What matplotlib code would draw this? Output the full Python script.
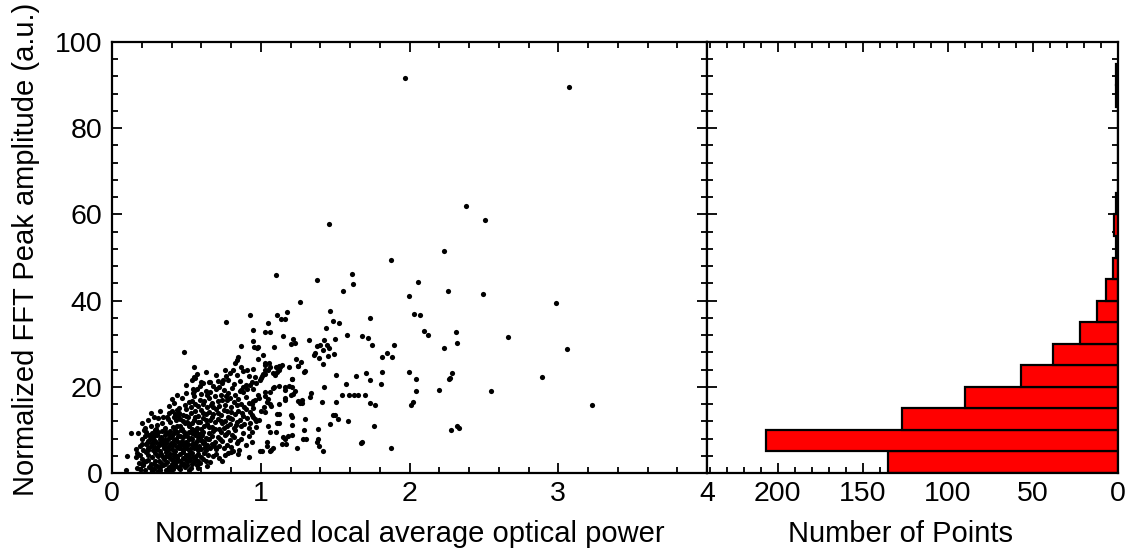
import matplotlib
matplotlib.use("Agg")
import matplotlib.pyplot as plt
from matplotlib.ticker import MultipleLocator

# ---------------- data ----------------
# sparse / outlying points (power, amplitude)
pts_sparse = [
    (1.97, 91.6), (3.07, 89.5), (2.378, 62.0), (2.508, 58.8), (1.459, 57.7), (2.232, 51.6),
    (1.878, 49.4), (1.103, 45.9), (1.611, 46.2), (1.38, 44.8), (1.623, 43.9), (2.057, 44.3),
    (1.555, 42.2), (1.999, 41.1), (2.259, 42.2), (2.496, 41.6), (1.264, 39.7), (1.466, 37.6),
    (1.111, 36.7), (1.134, 35.7), (1.161, 35.7), (1.176, 37.4), (0.928, 36.7), (2.033, 36.8),
    (2.071, 36.7), (1.484, 35.3), (1.737, 35.9), (2.985, 39.4), (1.528, 34.7), (1.439, 33.6),
    (1.047, 34.7), (0.95, 33.2), (1.029, 32.8), (1.062, 32.6), (1.147, 31.9), (2.097, 32.9),
    (2.127, 32.0), (2.31, 32.6), (2.32, 30.1), (2.66, 31.6), (1.578, 32.0), (1.678, 31.8),
    (1.723, 31.3), (1.499, 31.2), (1.425, 30.9), (1.215, 31.1), (1.232, 30.2), (1.324, 30.8),
    (0.766, 35.0), (0.946, 30.6), (2.234, 28.9), (3.06, 28.8), (1.75, 29.7), (1.894, 29.8),
    (1.851, 27.9), (1.813, 27.0), (1.884, 26.8), (1.203, 29.9), (1.376, 29.5), (1.398, 29.8),
    (1.365, 27.9), (1.358, 27.4), (1.443, 29.7), (1.457, 28.9), (1.421, 28.5), (1.450, 27.1),
    (1.390, 26.6), (1.494, 27.5), (1.087, 29.2), (0.975, 29.1), (0.983, 26.4), (1.017, 27.4),
    (1.235, 26.4), (1.268, 25.8), (1.027, 25.6), (1.055, 25.5), (0.957, 29.3), (0.983, 29.3),
    (0.865, 29.5), (0.484, 28.1), (0.838, 26.2), (0.85, 26.8), (0.827, 25.5), (1.416, 25.4),
]

# medium-density points (power, amplitude)
pts_mid = [
    (1.506, 22.7), (1.573, 20.6), (1.638, 22.6), (1.71, 23.1), (1.732, 21.6), (1.813, 23.4),
    (1.808, 20.6), (1.994, 23.4), (2.044, 21.7), (2.041, 19.1), (2.026, 16.5), (2.012, 15.7),
    (2.2, 19.3), (2.263, 21.8), (2.286, 23.1), (2.27, 22.0), (2.89, 22.3), (2.548, 19.1),
    (3.23, 15.7), (2.28, 10.0), (2.32, 10.9), (2.33, 10.4), (1.547, 18.1), (1.59, 18.1),
    (1.625, 18.1), (1.654, 18.1), (1.698, 18.1), (1.734, 16.3), (1.770, 15.8), (1.506, 16.5),
    (1.414, 16.4), (1.425, 19.9), (1.33, 17.6), (1.34, 18.5), (1.25, 16.7), (1.28, 16.9),
    (1.16, 17.5), (1.2, 18.2), (1.22, 18.3), (1.466, 11.4), (1.522, 12.6), (1.501, 13.5),
    (1.589, 12.1), (1.387, 10.2), (1.387, 7.8), (1.376, 7.3), (1.39, 6.3), (1.421, 5.1),
    (1.297, 12.6), (1.291, 10.0), (1.286, 7.8), (1.304, 8.0), (1.242, 5.7), (1.21, 11.1),
    (1.21, 13.1), (1.21, 8.8), (1.15, 8.4), (1.16, 8.0), (1.17, 6.7), (1.18, 8.7),
    (1.11, 13.8), (1.11, 11.5), (1.10, 9.4), (1.14, 6.7), (1.876, 5.7), (1.672, 7.0),
    (1.683, 7.1), (1.763, 10.8), (1.488, 13.5), (1.2, 13.5), (1.264, 16.2), (1.28, 16.3),
    (1.163, 16.9), (1.04, 7.3), (0.995, 5.2), (1.01, 5.2), (1.06, 5.0), (1.07, 5.4),
    (1.08, 5.8), (1.05, 11.0), (1.06, 9.5), (1.04, 6.2), (1.03, 18.8), (1.06, 18.8),
    (1.03, 17.9), (1.05, 17.2), (1.04, 16.5), (1.06, 16.1), (1.07, 15.5), (0.96, 17.0),
    (0.98, 18.2), (0.99, 17.5), (0.95, 16.8), (0.94, 16.0), (0.93, 14.2), (0.95, 15.0),
    (0.94, 13.5), (0.96, 12.6), (0.97, 12.0), (0.93, 11.5), (1.0, 14.5), (1.02, 15.2),
    (1.03, 14.2), (1.12, 16.1), (1.12, 13.6), (1.12, 11.5), (1.09, 20.0), (1.12, 20.2),
    (1.16, 20.0), (1.21, 20.0), (1.19, 20.2), (1.23, 19.1), (1.16, 19.3), (1.212, 21.8),
    (1.08, 19.7), (1.03, 23.0), (1.0, 22.0), (1.01, 22.4), (0.995, 21.6), (1.029, 23.9),
    (1.051, 23.9), (1.017, 23.0), (1.029, 25.0), (1.062, 24.6), (0.93, 20.5), (0.95, 19.6),
    (0.94, 21.0), (0.96, 22.3), (1.12, 24.0), (1.13, 24.5), (1.14, 25.0), (1.11, 23.4),
    (1.12, 24.8), (1.10, 24.6), (1.192, 24.7), (1.094, 22.7), (1.084, 23.1), (1.295, 23.6),
    (1.248, 24.9), (1.208, 21.8), (1.253, 24.8), (1.291, 23.5),
]

# dense cluster at low power (power, amplitude)
pts_dense = [
    # 0-5
    (0.092, 0.7), (0.17, 1.2), (0.18, 2.4), (0.19, 1.0), (0.20, 3.3), (0.21, 1.8), (0.22, 0.6),
    (0.23, 2.9), (0.24, 4.1), (0.25, 1.4), (0.26, 2.2), (0.27, 3.6), (0.28, 0.9), (0.29, 4.6),
    (0.29, 2.7), (0.30, 1.6), (0.31, 3.9), (0.32, 0.8), (0.33, 2.4), (0.33, 4.4), (0.34, 1.9),
    (0.35, 3.2), (0.36, 0.7), (0.36, 4.8), (0.37, 2.6), (0.38, 1.3), (0.38, 3.7), (0.39, 4.3),
    (0.40, 2.0), (0.41, 0.9), (0.41, 3.1), (0.42, 4.6), (0.43, 1.7), (0.44, 2.8), (0.44, 3.9),
    (0.45, 1.1), (0.46, 4.4), (0.47, 2.3), (0.48, 3.4), (0.49, 1.5), (0.50, 4.1), (0.51, 2.7),
    (0.52, 3.6), (0.53, 1.2), (0.54, 4.7), (0.55, 2.5), (0.56, 3.3), (0.57, 1.8), (0.58, 4.3),
    (0.59, 2.3), (0.60, 3.8), (0.62, 4.6), (0.63, 2.9), (0.66, 2.5), (0.68, 3.9), (0.70, 4.5),
    (0.737, 2.9), (0.76, 4.2), (0.80, 4.8), (0.923, 3.8), (0.099, 3.9), (0.17, 4.7), (0.16, 3.6),
    (0.19, 4.2), (0.215, 2.6), (0.245, 3.0), (0.265, 1.2), (0.285, 2.0), (0.305, 4.2),
    (0.315, 2.8), (0.325, 1.4), (0.345, 3.6), (0.355, 2.2), (0.365, 4.0), (0.375, 1.0),
    (0.395, 3.3), (0.405, 1.6), (0.415, 4.0), (0.425, 2.4), (0.435, 3.5), (0.455, 2.9),
    (0.465, 1.8), (0.475, 4.8), (0.485, 2.0), (0.495, 3.0), (0.505, 1.9), (0.515, 4.5),
    (0.525, 3.0), (0.535, 2.2), (0.545, 3.8), (0.565, 4.0), (0.575, 2.8), (0.61, 3.3),
    (0.645, 4.1), (0.72, 3.4), (0.78, 4.6), (0.85, 4.4), (0.20, 2.0), (0.23, 4.8), (0.27, 0.5),
    (0.31, 0.5), (0.39, 0.6), (0.46, 0.9), (0.52, 0.8), (0.58, 1.2), (0.64, 1.6),
    # 5-10
    (0.126, 9.2), (0.161, 5.5), (0.177, 9.2), (0.19, 6.3), (0.20, 7.8), (0.21, 5.4), (0.22, 8.6),
    (0.226, 6.7), (0.23, 9.6), (0.24, 5.9), (0.245, 7.4), (0.25, 8.9), (0.255, 8.0), (0.26, 6.2),
    (0.267, 6.9), (0.27, 9.3), (0.275, 5.3), (0.28, 7.7), (0.285, 8.5), (0.289, 10.0), (0.29, 6.0),
    (0.295, 7.1), (0.30, 8.8), (0.305, 5.6), (0.31, 9.5), (0.315, 6.6), (0.32, 7.9), (0.325, 5.2),
    (0.33, 8.4), (0.335, 9.8), (0.34, 6.4), (0.345, 7.3), (0.35, 5.8), (0.355, 8.9), (0.36, 6.9),
    (0.365, 9.4), (0.37, 7.6), (0.375, 5.3), (0.38, 8.2), (0.385, 6.2), (0.39, 9.7), (0.395, 7.0),
    (0.40, 5.6), (0.405, 8.6), (0.41, 6.5), (0.415, 9.2), (0.42, 7.7), (0.425, 5.2), (0.43, 8.0),
    (0.435, 6.1), (0.44, 9.5), (0.445, 7.2), (0.45, 5.7), (0.455, 8.7), (0.46, 6.6), (0.465, 9.9),
    (0.47, 7.5), (0.475, 5.4), (0.48, 8.3), (0.485, 6.3), (0.49, 9.1), (0.495, 7.1), (0.50, 5.9),
    (0.505, 8.5), (0.51, 6.8), (0.515, 9.6), (0.52, 7.8), (0.525, 5.5), (0.53, 8.1), (0.535, 6.4),
    (0.54, 9.3), (0.545, 7.0), (0.55, 5.8), (0.555, 8.8), (0.56, 6.7), (0.565, 9.7), (0.57, 7.4),
    (0.575, 5.3), (0.58, 8.4), (0.585, 6.2), (0.59, 9.0), (0.595, 7.6), (0.60, 5.6), (0.605, 8.9),
    (0.61, 6.9), (0.615, 9.5), (0.62, 7.3), (0.63, 5.4), (0.635, 8.2), (0.64, 6.5), (0.65, 9.2),
    (0.655, 7.8), (0.66, 5.9), (0.67, 8.6), (0.675, 6.8), (0.68, 9.8), (0.69, 7.1), (0.70, 5.5),
    (0.71, 8.4), (0.72, 6.3), (0.73, 9.4), (0.74, 7.5), (0.75, 5.7), (0.76, 8.8), (0.77, 6.6),
    (0.78, 9.6), (0.79, 7.7), (0.80, 6.0), (0.816, 5.1), (0.82, 8.3), (0.83, 9.9), (0.84, 6.9),
    (0.856, 5.3), (0.87, 7.9), (0.88, 9.2), (0.90, 6.5), (0.92, 8.5), (0.94, 7.3), (0.94, 9.6),
    (0.205, 6.8), (0.235, 7.0), (0.265, 8.4), (0.295, 9.0), (0.325, 6.9), (0.355, 7.7),
    (0.385, 9.0), (0.415, 6.8), (0.445, 8.6), (0.475, 7.0), (0.505, 6.6), (0.535, 8.0),
    (0.565, 6.0), (0.595, 8.5), (0.625, 6.0), (0.215, 9.9), (0.245, 5.3), (0.275, 7.0),
    (0.305, 5.9), (0.335, 8.0), (0.365, 5.7), (0.395, 8.4), (0.425, 9.9), (0.455, 5.9),
    (0.485, 9.5), (0.515, 5.3), (0.545, 9.9), (0.575, 9.0), (0.605, 7.4), (0.645, 8.0),
    (0.685, 6.2), (0.725, 7.9), (0.765, 9.0), (0.805, 8.9), (0.845, 7.5),
    # 10-15
    (0.222, 10.4), (0.20, 11.5), (0.24, 12.3), (0.26, 10.8), (0.28, 13.0), (0.30, 11.2),
    (0.31, 12.8), (0.32, 14.3), (0.334, 11.5), (0.345, 13.1), (0.368, 13.1), (0.39, 11.9),
    (0.40, 14.5), (0.41, 10.6), (0.424, 13.7), (0.43, 12.2), (0.44, 11.0), (0.45, 14.0),
    (0.46, 12.6), (0.47, 10.3), (0.48, 13.5), (0.49, 11.7), (0.50, 14.8), (0.51, 12.9),
    (0.52, 10.8), (0.53, 13.9), (0.54, 11.5), (0.55, 12.4), (0.56, 14.4), (0.57, 10.5),
    (0.58, 13.2), (0.59, 11.9), (0.60, 14.6), (0.61, 12.7), (0.62, 10.9), (0.63, 13.6),
    (0.64, 11.3), (0.65, 14.2), (0.66, 12.3), (0.67, 10.6), (0.68, 13.8), (0.69, 11.8),
    (0.70, 14.9), (0.71, 12.5), (0.72, 10.2), (0.73, 13.4), (0.74, 11.6), (0.75, 14.7),
    (0.76, 12.1), (0.77, 10.8), (0.78, 13.0), (0.79, 11.3), (0.80, 14.1), (0.81, 12.6),
    (0.82, 10.5), (0.83, 13.7), (0.84, 11.9), (0.85, 14.4), (0.86, 12.2), (0.87, 10.9),
    (0.88, 13.3), (0.89, 11.4), (0.90, 14.8), (0.91, 12.8), (0.92, 10.4), (0.95, 13.0),
    (0.97, 10.7), (0.99, 12.3), (0.295, 10.2), (0.355, 10.4), (0.375, 12.6), (0.415, 12.9),
    (0.435, 14.7), (0.455, 10.9), (0.475, 12.0), (0.495, 13.3), (0.515, 11.4), (0.535, 10.1),
    (0.555, 13.1), (0.575, 11.8), (0.595, 10.3), (0.615, 13.9), (0.635, 12.3), (0.655, 10.6),
    (0.675, 12.9), (0.695, 10.1), (0.715, 13.9), (0.735, 12.0), (0.755, 10.5), (0.775, 14.3),
    (0.795, 12.8), (0.835, 11.1), (0.875, 13.9), (0.265, 14.0), (0.385, 14.0), (0.445, 13.2),
    (0.505, 11.9),
    # 15-20
    (0.38, 15.5), (0.42, 16.2), (0.45, 15.1), (0.47, 17.3), (0.49, 15.8), (0.50, 18.6),
    (0.52, 16.5), (0.53, 15.3), (0.55, 17.8), (0.56, 16.1), (0.57, 19.4), (0.58, 15.6),
    (0.59, 17.0), (0.60, 18.3), (0.61, 15.9), (0.62, 16.8), (0.63, 19.0), (0.64, 15.4),
    (0.65, 17.5), (0.66, 18.8), (0.67, 16.3), (0.68, 15.2), (0.69, 17.9), (0.70, 19.6),
    (0.71, 16.6), (0.72, 15.5), (0.73, 18.1), (0.74, 17.0), (0.75, 19.3), (0.76, 15.8),
    (0.77, 16.9), (0.78, 18.5), (0.79, 17.4), (0.80, 15.3), (0.81, 19.8), (0.82, 16.4),
    (0.83, 18.0), (0.84, 15.7), (0.85, 17.2), (0.86, 19.1), (0.87, 16.0), (0.88, 18.7),
    (0.89, 15.4), (0.90, 17.6), (0.91, 19.5), (0.92, 16.2), (0.547, 19.4), (0.44, 18.0),
    (0.40, 17.2), (0.54, 16.8), (0.64, 18.1), (0.72, 19.9), (0.665, 15.8), (0.765, 17.9),
    (0.55, 19.0), (0.545, 18.6), (0.87, 19.2), (0.88, 19.9),
    # 20-25
    (0.536, 21.6), (0.558, 22.0), (0.553, 24.7), (0.592, 20.2), (0.659, 21.0), (0.715, 21.3),
    (0.748, 21.6), (0.766, 22.5), (0.793, 23.1), (0.816, 23.9), (0.84, 22.8), (0.78, 21.5),
    (0.82, 20.6), (0.76, 24.0), (0.70, 22.8), (0.63, 23.5), (0.61, 20.8), (0.68, 20.3),
    (0.74, 20.9), (0.86, 21.4), (0.88, 23.7), (0.90, 20.4), (0.92, 22.6), (0.87, 24.6),
    (0.50, 20.5), (0.57, 23.0), (0.55, 22.3), (0.596, 21.0), (0.654, 21.0), (0.91, 23.9),
    (0.95, 24.2), (0.97, 20.9),
]

# histogram of amplitudes (5-unit bins)
bin_starts = [0, 5, 10, 15, 20, 25, 30, 35, 40, 45, 50, 55, 60, 65, 70, 75, 80, 85, 90]
bin_counts = [135, 207, 127, 90, 57, 38, 22, 12, 7, 3, 1, 2, 1, 0, 0, 0, 0, 1, 1]
bin_width = 5

x_ticks = [0, 1, 2, 3, 4]
y_ticks = [0, 20, 40, 60, 80, 100]
count_ticks = [0, 50, 100, 150, 200]

# ---------------- figure ----------------
plt.rcParams['font.family'] = ['Liberation Sans', 'DejaVu Sans']

W, H = 1128, 553
fig = plt.figure(figsize=(W / 100, H / 100), dpi=100)

left_px, mid_px, right_px = 112, 707, 1117.7
top_px, bot_px = 42, 473
ax1 = fig.add_axes([left_px / W, (H - bot_px) / H, (mid_px - left_px) / W, (bot_px - top_px) / H])
ax2 = fig.add_axes([mid_px / W, (H - bot_px) / H, (right_px - mid_px) / W, (bot_px - top_px) / H])

all_pts = pts_sparse + pts_mid + pts_dense
px = [p[0] for p in all_pts]
py = [p[1] for p in all_pts]
ax1.scatter(px, py, s=14, c='black', linewidths=0, zorder=3)

ax1.set_xlim(0, 4)
ax1.set_ylim(0, 100)
ax1.set_xticks(x_ticks)
ax1.set_yticks(y_ticks)
ax1.xaxis.set_minor_locator(MultipleLocator(0.2))
ax1.yaxis.set_minor_locator(MultipleLocator(4))
ax1.set_xlabel('Normalized local average optical power', fontsize=21)
ax1.set_ylabel('Normalized FFT Peak amplitude (a.u.)', fontsize=21)
ax1.xaxis.set_label_coords(0.5, -0.11)
ax1.yaxis.set_label_coords(-0.121, 0.52)

ax2.barh(bin_starts, bin_counts, height=bin_width, align='edge', left=0,
         color='#ff0000', edgecolor='black', linewidth=1.6, zorder=2)
ax2.set_xlim((right_px - mid_px) / 1.7, 0)
ax2.set_ylim(0, 100)
ax2.set_xticks(count_ticks)
ax2.xaxis.set_minor_locator(MultipleLocator(10))
ax2.yaxis.set_minor_locator(MultipleLocator(4))
ax2.set_yticks(y_ticks)
ax2.set_yticklabels([])
ax2.set_xlabel('Number of Points', fontsize=21)
ax2.xaxis.set_label_coords(0.472, -0.11)

for ax in (ax1, ax2):
    for sp in ax.spines.values():
        sp.set_linewidth(1.6)
    ax.tick_params(which='both', direction='in', top=True, right=True, width=1.3,
                   labelsize=20.5)
    ax.tick_params(axis='x', which='both', pad=6)
    ax.tick_params(axis='y', which='both', pad=7)
    ax.tick_params(which='major', length=7)
    ax.tick_params(which='minor', length=4)

fig.savefig('out.png', dpi=100)
